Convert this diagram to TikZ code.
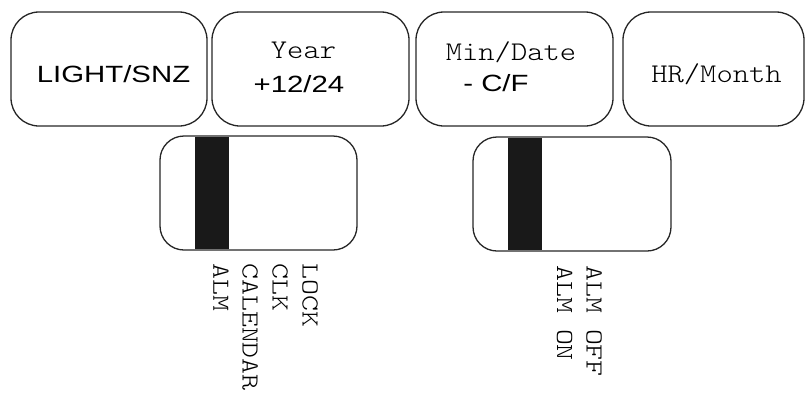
\documentclass[tikz,border=0pt]{standalone}
\usepackage{fontspec}
\usepackage{graphicx}
\newfontfamily\arialf{Liberation Sans}
\newfontfamily\courf{Latin Modern Mono Light}
\tikzset{
  btn/.style={draw=black!85, line width=1.3pt, rounded corners=28pt},
  sw/.style={draw=black!85, line width=1.3pt, rounded corners=24pt},
  bar/.style={fill=black!90, draw=none},
  sanslbl/.style={anchor=base, inner sep=0pt, font=\arialf\fontsize{23.5}{23.5}\selectfont},
  monolbl/.style={anchor=base, inner sep=0pt, font=\courf\fontsize{27}{27}\selectfont},
  vlbl/.style={anchor=west, inner sep=0pt, rotate=-90, font=\courf\fontsize{24.5}{24.5}\selectfont}
}
\newcommand{\wsans}[1]{\scalebox{1.25}[1]{#1}}
\newcommand{\wmono}[1]{\scalebox{1.15}[1]{#1}}
\newcommand{\wvert}[1]{\scalebox{1.24}[1]{#1}}
\begin{document}
\begin{tikzpicture}[x=1pt,y=-1pt]
\useasboundingbox (0,0) rectangle (807,392);
% top buttons
\draw[btn] (11,12) rectangle (207,126);
\draw[btn] (212,12) rectangle (409,126);
\draw[btn] (416,12) rectangle (613,126);
\draw[btn] (623,12) rectangle (804,126);
\node[sanslbl] (light) at (113.5,82) {\wsans{LIGHT/SNZ}};
\node[monolbl] (year) at (303.5,58) {\wmono{Year}};
\node[sanslbl] (ft) at (299,92) {\wsans{+12/24}};
\node[monolbl] (mindate) at (511,60) {\wmono{Min/Date}};
\node[sanslbl] (cf) at (496,91) {\wsans{- C/F}};
\node[monolbl] (hr) at (716.5,82) {\wmono{HR/Month}};
% switch 1
\fill[bar] (195,137) rectangle (229,249);
\draw[sw] (160,136) rectangle (357,250);
\node[vlbl] (alm) at (221,263) {\wvert{ALM}};
\node[vlbl] (cal) at (250,263) {\wvert{CALENDAR}};
\node[vlbl] (clk) at (280,263) {\wvert{CLK}};
\node[vlbl] (lock) at (310,263) {\wvert{LOCK}};
% switch 2
\fill[bar] (508,138) rectangle (542,250);
\draw[sw] (473,137) rectangle (671,251);
\node[vlbl] (almon) at (564.5,265) {\wvert{ALM ON}};
\node[vlbl] (almoff) at (594,265) {\wvert{ALM OFF}};
\end{tikzpicture}
\end{document}
